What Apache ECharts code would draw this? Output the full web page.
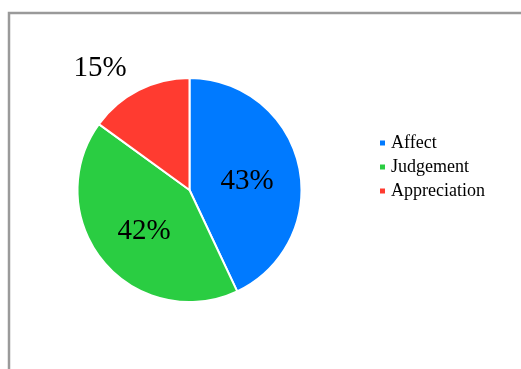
<!DOCTYPE html>
<html>
<head>
<meta charset="utf-8">
<script src="https://cdn.jsdelivr.net/npm/echarts@6/dist/echarts.min.js"></script>
<style>
  html, body { margin: 0; padding: 0; background: #fff; }
  #chart { width: 521px; height: 369px; }
</style>
</head>
<body>
<div id="chart"></div>
<script>
(function() {

	// data
	var categories = ['Affect', 'Judgement', 'Appreciation'];
	var shares = [43, 42, 15];
	var colors = ['#007AFF', '#2ACD42', '#FF3B30'];

	var chart = echarts.init(document.getElementById('chart'));

	var seriesData = [];
	for (var i = 0; i < categories.length; i++) {
		var item = {
			name : categories[i],
			value : shares[i],
			itemStyle : { color : colors[i] }
		};
		// the small slice has its label outside, no leader line
		if (i == 2) {
			item.label = { position : 'outside', offset : [4, 0] };
			item.labelLine = { show : false, length : 24, length2 : 0 };
		}
		seriesData.push(item);
	}

	chart.setOption({
		animation : false,
		textStyle : { fontFamily : 'Liberation Serif' },
		graphic : [ {
			type : 'polyline',
			shape : { points : [ [9, 369], [9, 13], [521, 13] ] },
			style : { stroke : '#9a9a9a', lineWidth : 2.5, fill : null }
		} ],
		legend : {
			orient : 'vertical',
			left : 378,
			top : 134,
			padding : 0,
			itemWidth : 7,
			itemHeight : 7,
			itemGap : 6,
			icon : 'rect',
			data : categories,
			textStyle : {
				fontFamily : 'Liberation Serif',
				fontSize : 18,
				color : '#000'
			}
		},
		series : [ {
			type : 'pie',
			center : [189.5, 190],
			radius : [0, 112],
			startAngle : 90,
			clockwise : true,
			avoidLabelOverlap : false,
			itemStyle : { borderColor : '#fff', borderWidth : 2 },
			label : {
				show : true,
				position : 'inside',
				formatter : '{c}%',
				fontFamily : 'Liberation Serif',
				fontSize : 29,
				color : '#000',
				offset : [0, 4]
			},
			labelLine : { show : false },
			emphasis : { disabled : true },
			data : seriesData
		} ]
	});
})();
</script>
</body>
</html>
